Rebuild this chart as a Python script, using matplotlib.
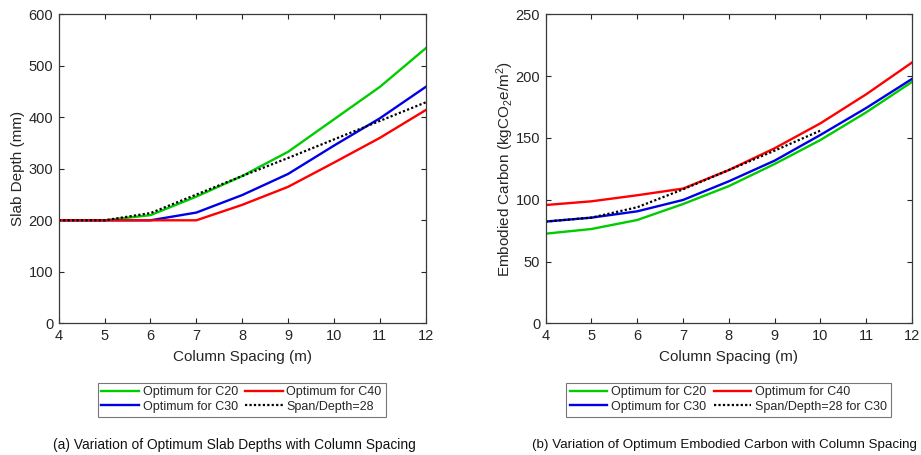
import matplotlib
matplotlib.use("Agg")
import matplotlib.pyplot as plt

plt.rcParams['font.family'] = ['Liberation Sans', 'DejaVu Sans']
plt.rcParams['mathtext.default'] = 'regular'

# Column spacing (m)
spacing = [4, 5, 6, 7, 8, 9, 10, 11, 12]

# (a) Optimum slab depth (mm)
depth_c20 = [200, 200, 210, 246, 286, 333, 396, 459, 534]
depth_c30 = [200, 200, 200, 215, 249, 290, 345, 398, 459]
depth_c40 = [200, 200, 200, 200, 230, 265, 312, 360, 414]
depth_span28 = [200, 200, 214, 250, 286, 321, 357, 393, 429]

# (b) Optimum embodied carbon (kgCO2e/m2)
carbon_c20 = [72.5, 76.3, 83.6, 96.5, 111.0, 128.9, 148.3, 170.7, 195.3]
carbon_c30 = [82.3, 85.5, 90.6, 99.8, 114.9, 131.6, 152.4, 174.2, 197.7]
carbon_c40 = [95.7, 98.7, 103.6, 109.0, 124.0, 141.6, 161.8, 185.3, 211.0]
spacing_span28 = [4, 5, 6, 7, 8, 9, 10]
carbon_span28 = [82.3, 85.5, 93.9, 108.4, 124.0, 139.7, 155.9]

GREEN = '#00cc00'
BLUE = '#0000e6'
RED = '#ff0000'
TXT = '#262626'
EDGE = '#3a3a3a'

W, H = 921, 455
fig = plt.figure(figsize=(W / 100, H / 100), dpi=100)


def px_axes(x0, x1, y0, y1):
    return fig.add_axes([x0 / W, 1 - y1 / H, (x1 - x0) / W, (y1 - y0) / H])


def style(ax, ymax, ystep, ylabel, ypad):
    ax.set_xlim(4, 12)
    ax.set_ylim(0, ymax)
    ax.set_xticks(range(4, 13))
    ax.set_yticks(range(0, ymax + 1, ystep))
    ax.tick_params(direction='in', top=True, right=True, length=3.5, width=0.8,
                   colors=TXT, labelsize=10.5, pad=4)
    for s in ax.spines.values():
        s.set_color(EDGE)
        s.set_linewidth(0.9)
    ax.set_xlabel('Column Spacing (m)', fontsize=11, color=TXT, labelpad=5)
    ax.set_ylabel(ylabel, fontsize=11, color=TXT, labelpad=ypad)


def add_legend(handles, labels, cx):
    leg = fig.legend(handles, labels, ncol=2, loc='center',
                     bbox_to_anchor=(cx / W, 1 - 399.5 / H),
                     fontsize=9.0, frameon=True, fancybox=False,
                     edgecolor='#555555', handlelength=3.0, handletextpad=0.3,
                     columnspacing=0.6, labelspacing=0.2, borderpad=0.3,
                     borderaxespad=0)
    leg.get_frame().set_linewidth(0.8)
    for t in leg.get_texts():
        t.set_color(TXT)
    return leg


LW = 1.7
DOT = (0, (1, 1))

# (a) slab depth
ax1 = px_axes(58.7, 425.7, 14.3, 323.3)
l20, = ax1.plot(spacing, depth_c20, color=GREEN, lw=LW)
l30, = ax1.plot(spacing, depth_c30, color=BLUE, lw=LW)
l40, = ax1.plot(spacing, depth_c40, color=RED, lw=LW)
ls, = ax1.plot(spacing, depth_span28, color='black', lw=1.6, linestyle=DOT)
style(ax1, 600, 100, 'Slab Depth (mm)', 2.5)
add_legend([l20, l30, l40, ls],
           ['Optimum for C20', 'Optimum for C30', 'Optimum for C40', 'Span/Depth=28'],
           241.5)

# (b) embodied carbon
ax2 = px_axes(545.7, 912.0, 14.3, 323.3)
m20, = ax2.plot(spacing, carbon_c20, color=GREEN, lw=LW)
m30, = ax2.plot(spacing, carbon_c30, color=BLUE, lw=LW)
m40, = ax2.plot(spacing, carbon_c40, color=RED, lw=LW)
ms, = ax2.plot(spacing_span28, carbon_span28, color='black', lw=1.6, linestyle=DOT)
style(ax2, 250, 50, r'Embodied Carbon (kgCO$_2$e/m$^2$)', -0.5)
add_legend([m20, m30, m40, ms],
           ['Optimum for C20', 'Optimum for C30', 'Optimum for C40',
            'Span/Depth=28 for C30'],
           728.5)

fig.text(234.5 / W, 1 - 445 / H, '(a) Variation of Optimum Slab Depths with Column Spacing',
         ha='center', va='center', fontsize=9.9, color='#111111')
fig.text(724 / W, 1 - 445 / H, '(b) Variation of Optimum Embodied Carbon with Column Spacing',
         ha='center', va='center', fontsize=9.6, color='#111111')

fig.savefig('out.png', dpi=100, facecolor='white')
